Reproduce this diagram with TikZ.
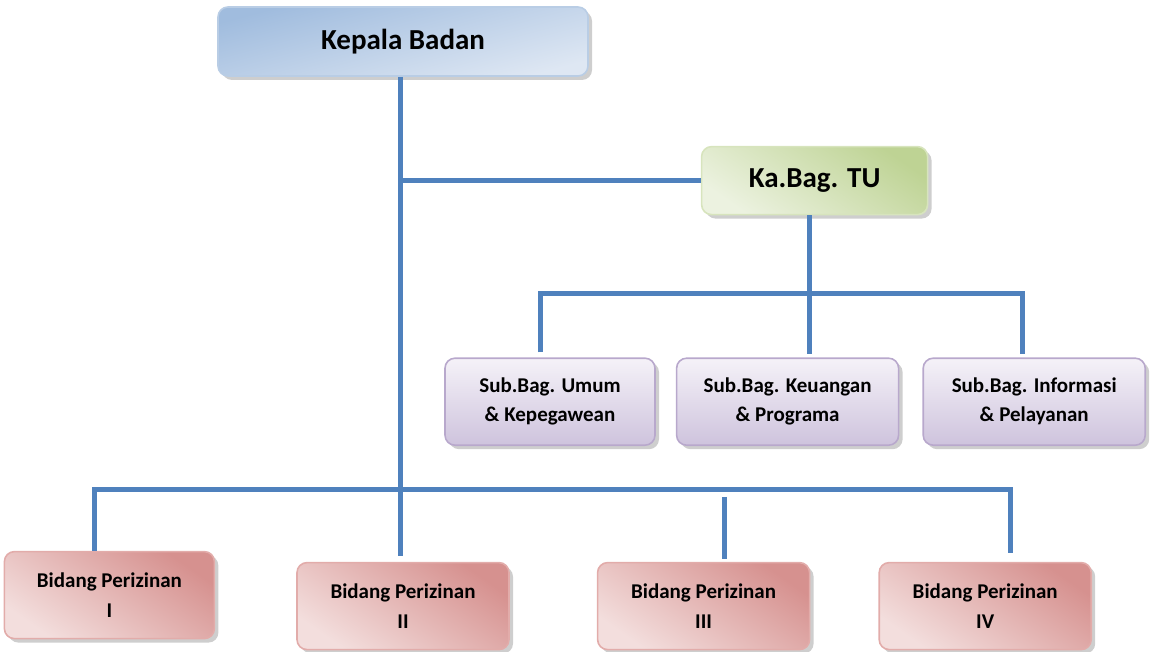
\documentclass[tikz,border=0pt]{standalone}
\usepackage{fontspec}
\setmainfont{Carlito}
\usepackage{tikz}
\usetikzlibrary{positioning,shadows}
\definecolor{linkblue}{RGB}{79,129,189}
\definecolor{headdark}{RGB}{160,188,222}
\definecolor{headlight}{RGB}{222,231,243}
\definecolor{headline}{RGB}{185,205,229}
\definecolor{staffdark}{RGB}{190,211,148}
\definecolor{stafflight}{RGB}{236,242,224}
\definecolor{staffline}{RGB}{215,228,189}
\definecolor{subdark}{RGB}{206,195,221}
\definecolor{sublight}{RGB}{245,242,248}
\definecolor{subline}{RGB}{184,168,204}
\definecolor{fielddark}{RGB}{214,145,143}
\definecolor{fieldlight}{RGB}{243,222,221}
\definecolor{fieldline}{RGB}{226,172,170}
\tikzset{
  box-base/.style={rounded corners=10pt, line width=1.6pt, align=center, inner sep=4pt,
    drop shadow={shadow xshift=4pt, shadow yshift=-4pt, fill=black!38}},
  head-node/.style={box-base, draw=headline, top color=headdark, bottom color=headlight,
    shading angle=15, minimum width=370pt, minimum height=69pt,
    font=\fontsize{29}{34}\selectfont\bfseries},
  staff-node/.style={box-base, draw=staffline, top color=staffdark, bottom color=stafflight,
    shading angle=-35, minimum width=226pt, minimum height=68pt,
    font=\fontsize{29}{34}\selectfont\bfseries},
  sub-node/.style={box-base, draw=subline, top color=sublight, bottom color=subdark,
    minimum width=222pt, minimum height=87pt,
    font=\fontsize{21}{29}\selectfont\bfseries},
  field-node/.style={box-base, draw=fieldline, top color=fielddark, bottom color=fieldlight,
    shading angle=-35, minimum width=212pt, minimum height=87pt,
    font=\fontsize{21}{30}\selectfont\bfseries},
  org-line/.style={line width=5pt, draw=linkblue}
}
\begin{document}
\begin{tikzpicture}[x=1pt, y=-1pt]
\useasboundingbox (0,0) rectangle (1153,652);
% Head of the agency
\node[head-node] (kepala) at (403,41.5) {Kepala Badan};

% Administration branch
\node[staff-node, below right=69pt and 112pt of kepala] (tu) {Ka.Bag. TU};

\node[sub-node, below=142pt of tu, xshift=-27pt] (keuangan) {Sub.Bag. Keuangan\\ \& Programa};
\node[sub-node, left=20pt of keuangan, minimum width=210pt] (umum) {Sub.Bag. Umum\\ \& Kepegawean};
\node[sub-node, right=23pt of keuangan] (informasi) {Sub.Bag. Informasi\\ \& Pelayanan};

% Licensing divisions
\node[field-node, below=485pt of kepala] (bid2) {Bidang Perizinan\\ II};
\node[field-node, left=81pt of bid2, yshift=11pt, minimum width=210pt] (bid1) {Bidang Perizinan\\ I};
\node[field-node, right=87pt of bid2] (bid3) {Bidang Perizinan\\ III};
\node[field-node, right=68pt of bid3] (bid4) {Bidang Perizinan\\ IV};

% Connecting lines
\draw[org-line] ([xshift=-3pt]kepala.south) -- ([shift={(-3pt,6pt)}]kepala.south |- bid2.north);
\draw[org-line] (tu.west) -- ([xshift=-3pt]kepala.south |- tu.west);
\draw[org-line] ([xshift=-5pt]tu.south) -- ([shift={(-5pt,3pt)}]tu.south |- keuangan.north);
\draw[org-line] ([shift={(-10pt,5pt)}]umum.north) |- ([shift={(-12pt,64pt)}]informasi.north)
  -- ([shift={(-12pt,3pt)}]informasi.north);
\draw[org-line] ([shift={(-15pt,0pt)}]bid1.north) |- ([shift={(25pt,72pt)}]bid4.north)
  -- ([shift={(25pt,9pt)}]bid4.north);
\draw[org-line] ([shift={(21pt,65pt)}]bid3.north) -- ([shift={(21pt,3pt)}]bid3.north);
\end{tikzpicture}
\end{document}
